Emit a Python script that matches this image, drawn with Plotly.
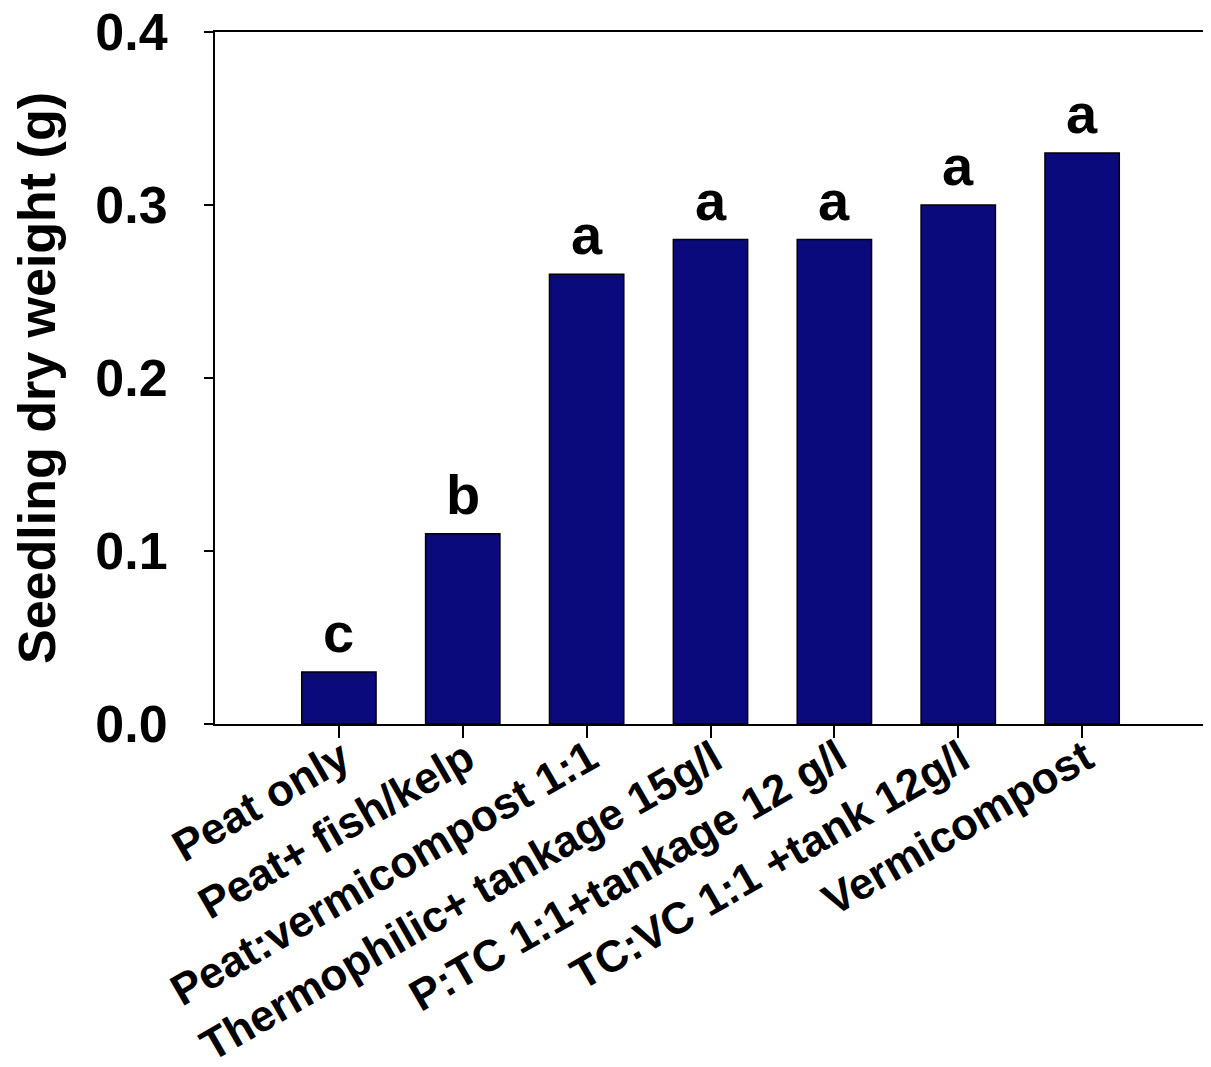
import plotly.graph_objects as go

categories = ["Peat only", "Peat+ fish/kelp", "Peat:vermicompost 1:1",
              "Thermophilic+ tankage 15g/l", "P:TC 1:1+tankage 12 g/l",
              "TC:VC 1:1 +tank 12g/l", "Vermicompost"]
dry_weight = [0.03, 0.11, 0.26, 0.28, 0.28, 0.30, 0.33]
letters = ["c", "b", "a", "a", "a", "a", "a"]
positions = [1, 2, 3, 4, 5, 6, 7]
y_ticks = [0.0, 0.1, 0.2, 0.3, 0.4]
y_tick_labels = ["0.0", "0.1", "0.2", "0.3", "0.4"]

FONT = "Liberation Sans, Arial, sans-serif"

fig = go.Figure()
fig.add_trace(go.Bar(
    x=positions, y=dry_weight, width=0.6,
    marker=dict(color="#0a0a7c", line=dict(color="black", width=1.5)),
    showlegend=False,
))

# significance letters above bars
for xp, yv, t in zip(positions, dry_weight, letters):
    fig.add_annotation(x=xp, y=yv, text=f"<b>{t}</b>", showarrow=False,
                       yanchor="bottom", yshift=6,
                       font=dict(family=FONT, size=56, color="black"))

# rotated category labels
for xp, c in zip(positions, categories):
    fig.add_annotation(x=xp, y=0, xref="x", yref="y", text=f"<b>{c}</b>",
                       showarrow=False, textangle=-30,
                       xanchor="right", yanchor="top",
                       xshift=22, yshift=-4,
                       font=dict(family=FONT, size=44, color="black"))

fig.update_layout(
    width=1203, height=1059,
    margin=dict(l=207, r=5, t=24, b=343),
    paper_bgcolor="white", plot_bgcolor="white",
    bargap=0.4,
)
fig.update_xaxes(
    range=[0, 8], tickmode="array", tickvals=positions,
    showticklabels=False,
    ticks="outside", ticklen=12, tickwidth=2, tickcolor="black",
    showline=True, linecolor="black", linewidth=2, mirror=True,
    showgrid=False, zeroline=False, automargin=False,
)
fig.update_yaxes(
    range=[0, 0.4], tickmode="array", tickvals=y_ticks,
    ticktext=[f"<b>{t}</b>" for t in y_tick_labels],
    ticks="outside", ticklen=9, tickwidth=2, tickcolor="black",
    showline=True, linecolor="black", linewidth=2, mirror=True,
    showgrid=False, zeroline=False, automargin=False,
    tickfont=dict(family=FONT, size=52, color="black"),
    ticklabelstandoff=26, ticklabeloverflow="allow",
    title=dict(text="<b>Seedling dry weight (g)</b>", standoff=30,
               font=dict(family=FONT, size=52, color="black")),
)

fig.write_html("out.html")
